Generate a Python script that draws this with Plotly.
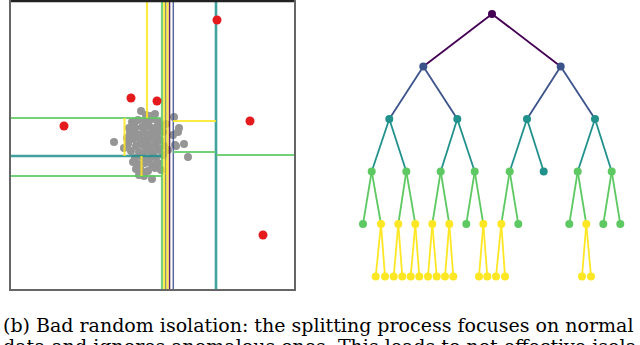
import plotly.graph_objects as go

# ANOMALIES (red) AND NORMAL POINTS (grey)
red_x = [217, 131, 157, 64, 250, 263]
red_y = [20, 98, 101, 126, 121, 235]

gray_x = [132, 138, 145, 152, 158, 135, 142, 149, 155, 160, 130, 137, 144, 151, 157,
          133, 140, 147, 154, 160, 128, 136, 143, 150, 156, 131, 139, 146, 153, 159,
          135, 142, 149, 156, 138, 145, 152, 141, 148, 155, 134, 127, 163, 164, 163,
          158, 133, 146, 155, 129, 147, 140, 152, 136, 144,
          114, 124, 141, 151, 174, 179, 178, 173, 175, 184, 188, 176, 139, 152, 166, 168, 161]
gray_y = [122, 120, 121, 119, 122, 128, 127, 126, 128, 127, 133, 134, 132, 133, 134,
          139, 140, 138, 139, 140, 144, 146, 145, 146, 145, 151, 152, 151, 152, 150,
          158, 157, 159, 158, 164, 163, 165, 170, 171, 168, 125, 138, 132, 146, 155,
          163, 162, 115, 114, 128, 142, 135, 156, 169, 176,
          142, 148, 111, 116, 117, 128, 132, 135, 145, 144, 157, 146, 175, 179, 124, 150, 170]

# SPLITS: depth, orientation, position, start, end
split_depth = [0, 1, 1, 2, 2, 3, 3, 3, 3, 3, 4, 4, 4, 4, 4, 4, 4]
split_dir = ['v', 'v', 'v', 'v', 'h', 'v', 'h', 'h', 'h', 'h', 'v', 'v', 'v', 'v', 'v', 'h', 'v']
split_pos = [169.5, 173.3, 165.7, 216, 156, 162, 118, 176, 152, 155, 164.3, 167.5, 147, 124.5, 141.5, 121, 167]
split_from = [1, 1, 1, 1, 11, 1, 11, 11, 173, 216, 1, 1, 1, 118, 156, 173, 160]
split_to = [289, 289, 289, 289, 162, 289, 162, 162, 216, 294, 289, 289, 118, 156, 176, 216, 175]

# TREE: node x position, depth, parent index
node_x = [492,
          423.3, 560.7,
          389.3, 457.3, 527, 595,
          371.7, 406.3, 440.7, 474.7, 509.7, 543.7, 577.7, 611.7,
          363, 381, 398.3, 415.3, 432.3, 449.3, 466.3, 483.3, 501.3, 518.3, 569.3, 586.3, 603.3, 620.3,
          375.7, 385, 393.7, 402.3, 410.7, 419.3, 428, 436.7, 445, 453.3, 479, 487.3, 496, 505, 582, 591]
node_depth = [0, 1, 1, 2, 2, 2, 2, 3, 3, 3, 3, 3, 3, 3, 3,
              4, 4, 4, 4, 4, 4, 4, 4, 4, 4, 4, 4, 4, 4,
              5, 5, 5, 5, 5, 5, 5, 5, 5, 5, 5, 5, 5, 5, 5, 5]
node_parent = [None, 0, 0, 1, 1, 2, 2, 3, 3, 4, 4, 5, 5, 6, 6,
               7, 7, 8, 8, 9, 9, 10, 10, 11, 11, 13, 13, 14, 14,
               16, 16, 17, 17, 18, 18, 19, 19, 20, 20, 22, 22, 23, 23, 26, 26]

caption_1 = "(b) Bad random isolation: the splitting process focuses on normal"
caption_2 = "data and ignores anomalous ones. This leads to not effective isola-"

viridis = ['#440154', '#3b528b', '#21918c', '#5ec962', '#fde725']
split_width = [1.6, 1.5, 2.6, 2.2, 2.2]

fig = go.Figure()

fig.add_trace(go.Scatter(x=gray_x, y=gray_y, mode='markers',
                         marker=dict(color='#959595', size=8), xaxis='x', yaxis='y'))

for d in range(5):
    xs, ys = [], []
    for i in range(len(split_depth)):
        if split_depth[i] != d:
            continue
        if split_dir[i] == 'v':
            xs += [split_pos[i], split_pos[i], None]
            ys += [split_from[i], split_to[i], None]
        else:
            xs += [split_from[i], split_to[i], None]
            ys += [split_pos[i], split_pos[i], None]
    fig.add_trace(go.Scatter(x=xs, y=ys, mode='lines',
                             line=dict(color=viridis[d], width=split_width[d]),
                             opacity=0.85, xaxis='x', yaxis='y'))

fig.add_trace(go.Scatter(x=red_x, y=red_y, mode='markers',
                         marker=dict(color='#e41a1c', size=9), xaxis='x', yaxis='y'))

# tree edges, coloured by parent depth
for d in range(5):
    xs, ys = [], []
    for i, p in enumerate(node_parent):
        if p is not None and node_depth[p] == d:
            xs += [node_x[p], node_x[i], None]
            ys += [node_depth[p], node_depth[i], None]
    fig.add_trace(go.Scatter(x=xs, y=ys, mode='lines',
                             line=dict(color=viridis[d], width=1.8), xaxis='x2', yaxis='y2'))

# node colour: own depth if internal, parent's depth if leaf
has_child = [False] * len(node_x)
for p in node_parent:
    if p is not None:
        has_child[p] = True
node_col = []
for i in range(len(node_x)):
    if has_child[i]:
        node_col.append(viridis[node_depth[i]])
    else:
        node_col.append(viridis[node_depth[node_parent[i]]])
fig.add_trace(go.Scatter(x=node_x, y=node_depth, mode='markers',
                         marker=dict(color=node_col, size=8), xaxis='x2', yaxis='y2'))

fig.update_layout(
    width=640, height=345, margin=dict(l=0, r=0, t=0, b=0),
    paper_bgcolor='white', plot_bgcolor='white', showlegend=False, hovermode=False,
    xaxis=dict(domain=[11 / 640, 294 / 640], range=[11, 294], showticklabels=False,
               showgrid=False, zeroline=False, showline=True, mirror=True,
               linecolor='#666666', linewidth=1.5),
    yaxis=dict(domain=[56 / 345, 344 / 345], range=[289, 1], showticklabels=False,
               showgrid=False, zeroline=False, showline=True, mirror=True,
               linecolor='#666666', linewidth=1.5),
    xaxis2=dict(domain=[0.5, 1], range=[320, 640], visible=False),
    yaxis2=dict(domain=[0, 1], range=[6.305, -0.2667], visible=False),
)

fig.add_shape(type='line', xref='x domain', yref='y domain', x0=0, x1=1, y0=1, y1=1,
              line=dict(color='#222222', width=2.5))

fig.add_annotation(text=caption_1, xref='paper', yref='paper', x=1 / 640, y=1 - 325 / 345,
                   xanchor='left', yanchor='middle', showarrow=False,
                   font=dict(family='DejaVu Serif', size=19, color='black'))
fig.add_annotation(text=caption_2, xref='paper', yref='paper', x=1 / 640, y=1 - 346 / 345,
                   xanchor='left', yanchor='middle', showarrow=False,
                   font=dict(family='DejaVu Serif', size=19, color='black'))

# page has a default body margin; remove it so the figure fills the window
fig.write_html("out.html", config={'displayModeBar': False},
               post_script="document.body.style.margin='0';")
